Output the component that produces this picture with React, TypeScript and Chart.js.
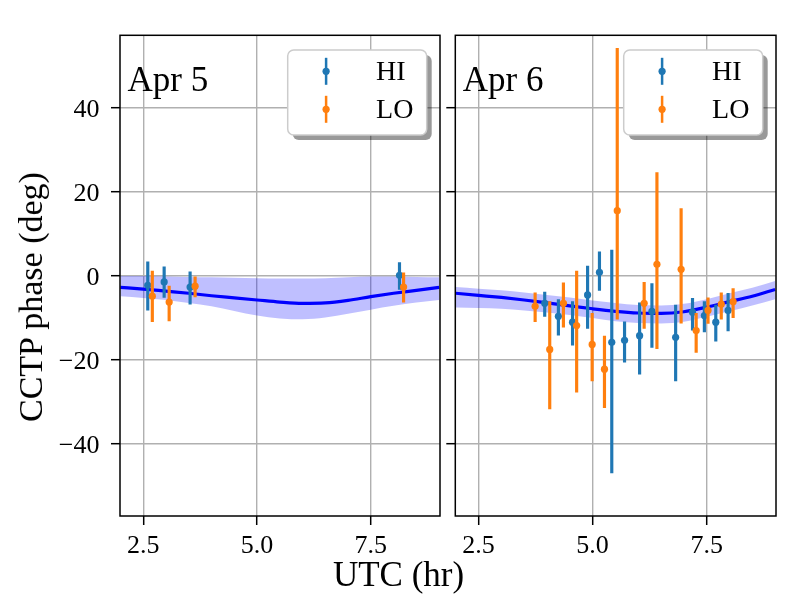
import { useEffect, useRef } from "react";
import { Chart, registerables, type ChartConfiguration, type Plugin } from "chart.js";

Chart.register(...registerables);

const SERIF = "'Liberation Serif', 'DejaVu Serif', serif";
const HI_COLOR = "#1f77b4";
const LO_COLOR = "#ff7f0e";

const X_MIN = 1.99;
const X_MAX = 9.02;
const Y_MIN = -57.3;
const Y_MAX = 57.3;

// model curve sample points (UTC hr)
const modelX = [2.0, 2.5, 3.0, 3.5, 4.0, 4.5, 5.0, 5.5, 6.0, 6.5, 7.0, 7.5, 8.0, 8.5, 9.0];

// Apr 5
const apr5Model = [-2.8, -3.2, -3.7, -4.2, -4.8, -5.3, -5.8, -6.3, -6.6, -6.5, -5.9, -5.0, -4.2, -3.5, -2.8];
const apr5BandHigh = [-0.1, -0.1, -0.2, -0.3, -0.4, -0.5, -0.6, -0.7, -0.7, -0.6, -0.4, -0.2, -0.2, -0.3, -0.4];
const apr5BandLow = [-4.9, -5.3, -5.8, -6.5, -7.3, -8.4, -9.5, -10.2, -10.4, -10.0, -9.1, -8.1, -7.2, -6.4, -5.8];

const apr5HiX = [2.6, 2.96, 3.53, 8.13];
const apr5HiY = [-2.3, -1.5, -2.7, 0.1];
const apr5HiLow = [-8.2, -5.2, -6.8, -3.3];
const apr5HiHigh = [3.3, 2.1, 0.9, 3.1];

const apr5LoX = [2.7, 3.07, 3.64, 8.22];
const apr5LoY = [-4.9, -6.3, -2.5, -2.7];
const apr5LoLow = [-11.0, -10.8, -5.1, -6.3];
const apr5LoHigh = [1.1, -2.5, -0.3, 0.7];

// Apr 6
const apr6Model = [-4.2, -4.7, -5.2, -5.8, -6.5, -7.2, -7.9, -8.5, -8.9, -9.0, -8.6, -7.5, -6.2, -4.9, -3.3];
const apr6BandHigh = [-2.7, -3.1, -3.5, -4.0, -4.6, -5.2, -5.9, -6.5, -7.0, -7.1, -6.7, -5.6, -4.2, -2.9, -1.3];
const apr6BandLow = [-7.6, -7.7, -7.9, -8.3, -8.8, -9.4, -10.1, -10.9, -11.3, -11.4, -11.0, -9.8, -8.5, -7.1, -5.6];

const apr6HiX = [3.95, 4.25, 4.56, 4.89, 5.15, 5.42, 5.7, 6.03, 6.3, 6.82, 7.19, 7.45, 7.7, 7.97];
const apr6HiY = [-6.6, -9.7, -11.1, -4.6, 0.8, -15.9, -15.4, -14.3, -8.5, -14.7, -8.7, -9.5, -11.1, -8.3];
const apr6HiLow = [-9.7, -14.2, -16.6, -12.6, -3.5, -47.0, -20.6, -23.5, -17.1, -25.1, -13.0, -13.4, -15.6, -13.2];
const apr6HiHigh = [-3.9, -5.7, -6.2, 2.3, 5.7, 6.1, -11.0, -6.5, -1.9, -7.0, -5.4, -6.2, -7.0, -4.2];

const apr6LoX = [3.74, 4.06, 4.36, 4.65, 4.99, 5.26, 5.54, 6.13, 6.41, 6.94, 7.27, 7.53, 7.82, 8.08];
const apr6LoY = [-7.3, -17.6, -6.6, -11.9, -16.4, -22.3, 15.5, -6.6, 2.7, 1.5, -13.1, -8.3, -6.8, -6.2];
const apr6LoLow = [-11.0, -31.8, -12.3, -27.8, -25.1, -31.5, -10.4, -12.6, -17.4, -11.3, -18.3, -11.4, -10.4, -10.0];
const apr6LoHigh = [-4.1, -6.2, -1.7, 1.1, -9.0, -14.4, 54.2, -1.6, 24.6, 16.0, -9.0, -5.3, -4.1, -3.1];

const legendLabels = ["HI", "LO"];

type PanelData = {
  label: string;
  model: number[];
  bandHigh: number[];
  bandLow: number[];
  hiX: number[];
  hiY: number[];
  hiLow: number[];
  hiHigh: number[];
  loX: number[];
  loY: number[];
  loLow: number[];
  loHigh: number[];
};

const xy = (xs: number[], ys: number[]) => xs.map((x, i) => ({ x, y: ys[i] }));
const bars = (xs: number[], lo: number[], hi: number[]) => xs.map((x, i) => ({ x, y: [lo[i], hi[i]] }));

// frame, date label and legend box drawn over the datasets
function decorPlugin(label: string): Plugin {
  return {
    id: "panelDecor",
    afterDatasetsDraw(chart) {
      const { ctx, chartArea } = chart;
      ctx.save();

      ctx.strokeStyle = "#000";
      ctx.lineWidth = 1.5;
      ctx.strokeRect(chartArea.left, chartArea.top, chartArea.right - chartArea.left, chartArea.bottom - chartArea.top);

      ctx.fillStyle = "#000";
      ctx.font = `35px ${SERIF}`;
      ctx.textAlign = "left";
      ctx.textBaseline = "alphabetic";
      ctx.fillText(label, chartArea.left + 7.5, chartArea.top + 55.5);

      const bw = 139;
      const bh = 85;
      const bx = chartArea.right - 13.3 - bw;
      const by = chartArea.top + 14.7;

      ctx.fillStyle = "rgba(0,0,0,0.4)";
      ctx.beginPath();
      ctx.roundRect(bx + 5, by + 5, bw, bh, 6);
      ctx.fill();

      ctx.fillStyle = "#fff";
      ctx.strokeStyle = "#cccccc";
      ctx.lineWidth = 1.5;
      ctx.beginPath();
      ctx.roundRect(bx, by, bw, bh, 6);
      ctx.fill();
      ctx.stroke();

      const colors = [HI_COLOR, LO_COLOR];
      legendLabels.forEach((text, i) => {
        const cy = by + 21.3 + i * 38;
        const gx = bx + 38.4;
        ctx.strokeStyle = colors[i];
        ctx.lineWidth = 2.5;
        ctx.beginPath();
        ctx.moveTo(gx, cy - 13.5);
        ctx.lineTo(gx, cy + 13.5);
        ctx.stroke();
        ctx.fillStyle = colors[i];
        ctx.beginPath();
        ctx.arc(gx, cy, 3.6, 0, Math.PI * 2);
        ctx.fill();
        ctx.fillStyle = "#000";
        ctx.font = `28px ${SERIF}`;
        ctx.fillText(text, bx + 88.4, by + 30 + i * 38.3);
      });

      ctx.restore();
    },
  };
}

function buildConfig(d: PanelData, left: number, right: number, yWidth: number, showY: boolean): ChartConfiguration {
  const tickFont = { family: SERIF, size: 26 };
  const grid = {
    color: "#b0b0b0",
    lineWidth: 1.4,
    tickColor: "#000",
    tickLength: 9,
    tickWidth: 1.5,
    offset: false,
  };
  return {
    type: "scatter",
    data: {
      datasets: [
        {
          type: "line",
          data: xy(modelX, d.bandHigh),
          fill: "+1",
          backgroundColor: "rgba(0,0,255,0.25)",
          borderWidth: 0,
          pointRadius: 0,
          cubicInterpolationMode: "monotone",
          order: 10,
        },
        {
          type: "line",
          data: xy(modelX, d.bandLow),
          fill: false,
          borderWidth: 0,
          pointRadius: 0,
          cubicInterpolationMode: "monotone",
          order: 9,
        },
        {
          type: "line",
          data: xy(modelX, d.model),
          borderColor: "#0000ff",
          borderWidth: 3.2,
          pointRadius: 0,
          fill: false,
          cubicInterpolationMode: "monotone",
          order: 8,
        },
        {
          type: "bar",
          data: bars(d.hiX, d.hiLow, d.hiHigh) as any,
          backgroundColor: HI_COLOR,
          barThickness: 2.5,
          grouped: false,
          borderWidth: 0,
          order: 4,
        },
        {
          type: "scatter",
          data: xy(d.hiX, d.hiY),
          backgroundColor: HI_COLOR,
          pointRadius: 3.6,
          borderWidth: 0,
          order: 3,
        },
        {
          type: "bar",
          data: bars(d.loX, d.loLow, d.loHigh) as any,
          backgroundColor: LO_COLOR,
          barThickness: 2.5,
          grouped: false,
          borderWidth: 0,
          order: 2,
        },
        {
          type: "scatter",
          data: xy(d.loX, d.loY),
          backgroundColor: LO_COLOR,
          pointRadius: 3.6,
          borderWidth: 0,
          order: 1,
        },
      ] as any,
    },
    options: {
      responsive: false,
      animation: false,
      events: [],
      layout: { padding: { left, right, top: 35.3, bottom: 0 } },
      plugins: {
        legend: { display: false },
        tooltip: { enabled: false },
      },
      scales: {
        x: {
          type: "linear",
          min: X_MIN,
          max: X_MAX,
          offset: false,
          grid,
          border: { display: false },
          ticks: {
            stepSize: 2.5,
            includeBounds: false,
            color: "#000",
            font: tickFont,
            padding: 6,
            maxRotation: 0,
            callback: (v) => Number(v).toFixed(1),
          },
          afterFit: (scale) => {
            scale.height = 84;
          },
        },
        y: {
          type: "linear",
          min: Y_MIN,
          max: Y_MAX,
          grid,
          border: { display: false },
          ticks: {
            display: showY,
            stepSize: 20,
            includeBounds: false,
            color: "#000",
            font: tickFont,
            padding: 11.5,
            labelOffset: 2.5,
            callback: (v) => (Number(v) < 0 ? "\u2212" + Math.abs(Number(v)) : String(v)),
          },
          afterFit: (scale) => {
            scale.width = yWidth;
          },
        },
      },
    },
    plugins: [decorPlugin(d.label)],
  };
}

export default function App() {
  const leftRef = useRef<HTMLCanvasElement>(null);
  const rightRef = useRef<HTMLCanvasElement>(null);

  useEffect(() => {
    if (!leftRef.current || !rightRef.current) {
      return;
    }
    const apr5: PanelData = {
      label: "Apr 5",
      model: apr5Model,
      bandHigh: apr5BandHigh,
      bandLow: apr5BandLow,
      hiX: apr5HiX,
      hiY: apr5HiY,
      hiLow: apr5HiLow,
      hiHigh: apr5HiHigh,
      loX: apr5LoX,
      loY: apr5LoY,
      loLow: apr5LoLow,
      loHigh: apr5LoHigh,
    };
    const apr6: PanelData = {
      label: "Apr 6",
      model: apr6Model,
      bandHigh: apr6BandHigh,
      bandLow: apr6BandLow,
      hiX: apr6HiX,
      hiY: apr6HiY,
      hiLow: apr6HiLow,
      hiHigh: apr6HiHigh,
      loX: apr6LoX,
      loY: apr6LoY,
      loLow: apr6LoLow,
      loHigh: apr6LoHigh,
    };
    const leftChart = new Chart(leftRef.current, buildConfig(apr5, 0, 360, 120, true));
    const rightChart = new Chart(rightRef.current, buildConfig(apr6, 444, 24, 11.3, false));
    return () => {
      leftChart.destroy();
      rightChart.destroy();
    };
  }, []);

  const canvasStyle = { position: "absolute" as const, left: 0, top: 0 };

  return (
    <div style={{ position: "absolute", left: 0, top: 0, width: 800, height: 600, background: "#fff", fontFamily: SERIF }}>
      <canvas ref={leftRef} width={800} height={600} style={canvasStyle} />
      <canvas ref={rightRef} width={800} height={600} style={canvasStyle} />
      <div
        style={{
          position: "absolute",
          left: 398.5,
          top: 557.4,
          transform: "translateX(-50%)",
          fontSize: 35,
          lineHeight: "35px",
          whiteSpace: "nowrap",
          color: "#000",
        }}
      >
        UTC (hr)
      </div>
      <div
        style={{
          position: "absolute",
          left: 30.5,
          top: 296.5,
          transform: "translate(-50%, -50%) rotate(-90deg)",
          fontSize: 34,
          lineHeight: "34px",
          whiteSpace: "nowrap",
          color: "#000",
        }}
      >
        CCTP phase (deg)
      </div>
    </div>
  );
}
